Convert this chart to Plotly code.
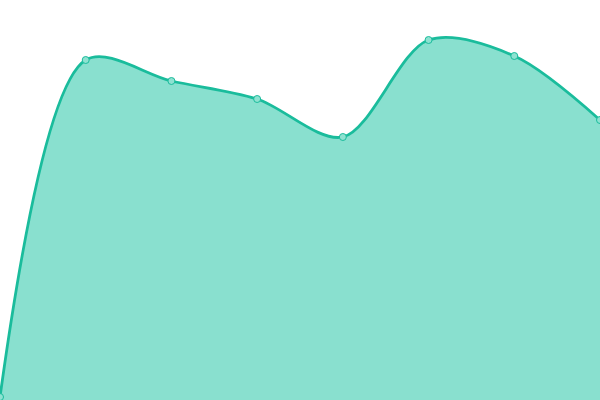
import plotly.graph_objects as go

x_idx = [0, 1, 2, 3, 4, 5, 6, 7]
values = [3, 340, 319, 301, 263, 360, 344, 280]

fig = go.Figure()
fig.add_trace(go.Scatter(
    x=x_idx,
    y=values,
    mode='lines+markers',
    line=dict(color='#1abc9c', width=2.8, shape='spline', smoothing=0.9),
    fill='tozeroy',
    fillcolor='#89e0cf',
    marker=dict(size=7, color='#8ee2d1', line=dict(color='#1abc9c', width=1)),
    cliponaxis=False,
    hoverinfo='skip',
))

fig.update_layout(
    width=600, height=400,
    margin=dict(l=0, r=0, t=0, b=0),
    paper_bgcolor='white',
    plot_bgcolor='white',
    showlegend=False,
    xaxis=dict(range=[0, 7], visible=False, fixedrange=True),
    yaxis=dict(range=[0, 400], visible=False, fixedrange=True),
)

# page body has a default 8px margin, drop it so the chart fills the window
fig.write_html("out.html", config={'displayModeBar': False},
               post_script="document.body.style.margin='0';")
